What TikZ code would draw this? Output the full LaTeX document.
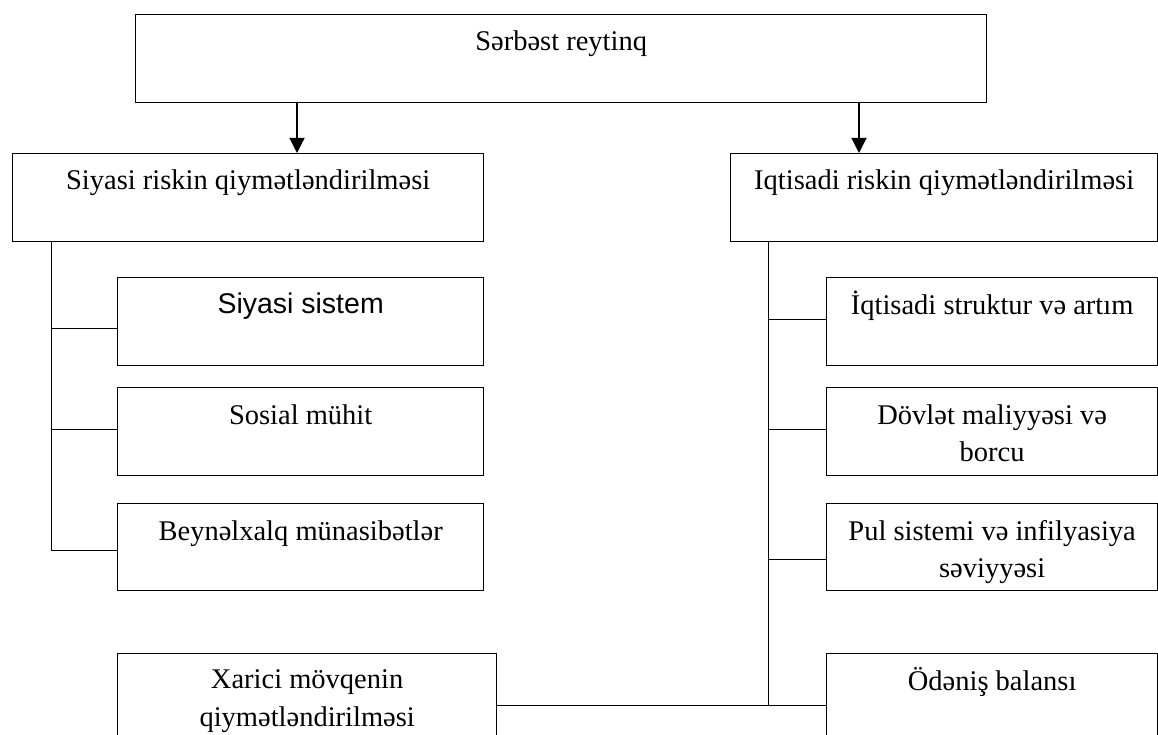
\documentclass[tikz,border=0pt]{standalone}
\usepackage{fontspec}
\setmainfont{Liberation Serif}
\newfontfamily\arialfont{Liberation Sans}
\usetikzlibrary{arrows.meta}
\begin{document}
\begin{tikzpicture}[x=1pt,y=-1pt,
  box/.style={draw, line width=1.3pt, rectangle, inner sep=0pt, anchor=north west},
  txt/.style={font=\fontsize{28.5}{37}\selectfont, align=center, anchor=base, inner sep=0pt},
  conn/.style={line width=1pt},
  arr/.style={line width=1.2pt, -{Triangle[length=15pt,width=15pt]}}]
\clip (0,0) rectangle (1158,735);
\fill[white] (0,0) rectangle (1158,735);
% boxes
\node[box, minimum width=851pt, minimum height=88pt] (top) at (135,14) {};
\node[box, minimum width=471pt, minimum height=88pt] (L) at (12,153) {};
\node[box, minimum width=427pt, minimum height=88pt] (R) at (730,153) {};
\node[box, minimum width=366pt, minimum height=88pt] (L1) at (117,277) {};
\node[box, minimum width=366pt, minimum height=88pt] (L2) at (117,387) {};
\node[box, minimum width=366pt, minimum height=87pt] (L3) at (117,503) {};
\node[box, minimum width=379pt, minimum height=104pt] (X) at (117,653) {};
\node[box, minimum width=331pt, minimum height=88pt] (R1) at (826,277) {};
\node[box, minimum width=331pt, minimum height=88pt] (R2) at (826,387) {};
\node[box, minimum width=331pt, minimum height=87pt] (R3) at (826,503) {};
\node[box, minimum width=331pt, minimum height=104pt] (R4) at (826,653) {};
% texts (base anchor = baseline of last line)
\node[txt] (ttop) at ([yshift=-37pt]top.north) {Sərbəst reytinq};
\node[txt] (tL) at ([yshift=-37pt]L.north) {Siyasi riskin qiymətləndirilməsi};
\node[txt] (tR) at ([yshift=-37pt]R.north) {Iqtisadi riskin qiymətləndirilməsi};
\node[txt, font=\arialfont\fontsize{28.5}{37}\selectfont] (tL1) at ([yshift=-36pt]L1.north) {Siyasi sistem};
\node[txt] (tL2) at ([yshift=-37pt]L2.north) {Sosial mühit};
\node[txt] (tL3) at ([yshift=-37pt]L3.north) {Beynəlxalq münasibətlər};
\node[txt, font=\fontsize{28.5}{38}\selectfont] (tX) at ([yshift=-73pt]X.north) {Xarici mövqenin\\qiymətləndirilməsi};
\node[txt, font=\fontsize{28.5}{37}\selectfont] (tR1) at ([yshift=-37pt]R1.north) {İqtisadi struktur və artım};
\node[txt] (tR2) at ([yshift=-74pt]R2.north) {Dövlət maliyyəsi və\\borcu};
\node[txt] (tR3) at ([yshift=-74pt]R3.north) {Pul sistemi və infilyasiya\\səviyyəsi};
\node[txt] (tR4) at ([yshift=-37pt]R4.north) {Ödəniş balansı};
% arrows
\coordinate (aL) at (297,0);
\coordinate (aR) at (859,0);
\draw[arr] (top.south -| aL) -- (L.north -| aL);
\draw[arr] (top.south -| aR) -- (R.north -| aR);
% left spine
\coordinate (vL) at (51,0);
\draw[conn] (vL |- L.south) |- ([yshift=-3.5pt]L3.west);
\draw[conn] ([yshift=-7pt]L1.west) -- +(-66,0);
\draw[conn] ([yshift=2pt]L2.west) -- +(-66,0);
% right spine
\coordinate (vR) at (768,0);
\draw[conn] (vR |- R.south) -- (vR |- R4.west);
\draw[conn] (X.east) -- (R4.west);
\draw[conn] ([yshift=2pt]R1.west) -- +(-58,0);
\draw[conn] ([yshift=2pt]R2.west) -- +(-58,0);
\draw[conn] ([yshift=-12.5pt]R3.west) -- +(-58,0);
\end{tikzpicture}
\end{document}
